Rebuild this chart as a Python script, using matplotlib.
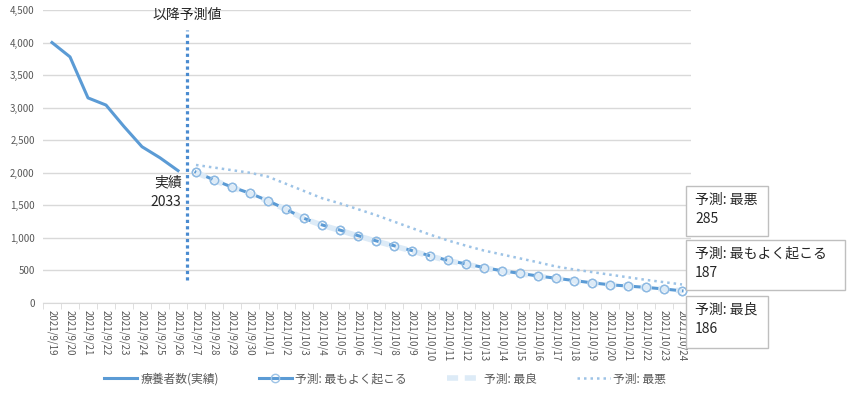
import matplotlib
matplotlib.use("Agg")
import matplotlib.pyplot as plt
import pandas as pd
from matplotlib.patches import Rectangle

plt.rcParams['font.family'] = ['Noto Sans CJK JP', 'DejaVu Sans']

# date labels for every day shown on the x axis
dates = [f"{d.year}/{d.month}/{d.day}" for d in pd.date_range("2021-09-19", "2021-10-24")]

# actual number of patients (9/19 - 9/26)
actual = [4000, 3780, 3150, 3040, 2710, 2400, 2230, 2033]

# forecasts (9/27 - 10/24)
likely = [2010, 1890, 1780, 1685, 1570, 1440, 1300, 1200, 1120, 1035, 955, 880, 805, 725,
          655, 600, 545, 495, 455, 415, 380, 345, 310, 280, 260, 240, 215, 187]
best = [2005, 1885, 1775, 1680, 1565, 1435, 1295, 1195, 1115, 1030, 950, 875, 800, 720,
        650, 595, 540, 490, 450, 410, 375, 340, 305, 278, 258, 238, 213, 186]
worst = [2120, 2080, 2040, 2000, 1940, 1830, 1720, 1610, 1530, 1440, 1350, 1250, 1150, 1050,
         960, 880, 805, 745, 685, 625, 560, 515, 475, 435, 395, 355, 320, 285]

labels = ["療養者数(実績)", "予測: 最もよく起こる", "予測: 最良", "予測: 最悪"]
box_titles = ["予測: 最悪", "予測: 最もよく起こる", "予測: 最良"]
box_values = [worst[-1], likely[-1], best[-1]]

W, H = 850, 393
fig = plt.figure(figsize=(W / 100, H / 100), dpi=100)
ax = fig.add_axes([43 / W, (H - 303) / H, 648 / W, 293 / H])

x_act = list(range(len(actual)))
x_fc = list(range(len(actual), len(actual) + len(likely)))

ax.plot(x_act, actual, color="#5B9BD5", lw=2.2, label=labels[0], zorder=3)
ax.plot(x_fc, likely, color="#5B9BD5", lw=2.2, marker="o", ms=6,
        mfc="none", mec="#9DC3E6", mew=1.0, label=labels[1], zorder=3)
ax.plot(x_fc, best, color="#DDEBF7", lw=4, ls=(0, (2, 1.2)), label=labels[2], zorder=4)
ax.plot(x_fc, likely, ls="none", marker="o", ms=6, mfc="none",
        mec="#8DB9E2", mew=1.0, zorder=5)
ax.plot(x_fc, worst, color="#9DC3E6", lw=1.8, ls=(0, (1, 1.6)), label=labels[3], zorder=3)

# boundary between actual and forecast
ax.plot([7.5, 7.5], [350, 4200], color="#4A8BD0", lw=2.3, ls=(0, (1, 1)), zorder=6, clip_on=False)
ax.text(7.5, 4430, "以降予測値", ha="center", va="center", fontsize=10, color="#262626")
ax.text(7.2, 1700, "実績\n2033", ha="right", va="center", fontsize=10,
        color="#262626", linespacing=1.45, zorder=7)

ax.set_xlim(-0.5, len(dates) - 0.5)
ax.set_ylim(0, 4500)
ax.set_yticks(range(0, 4501, 500))
ax.set_yticklabels([f"{v:,}" for v in range(0, 4501, 500)])
ax.set_xticks(range(len(dates)))
ax.set_xticklabels(dates, rotation=-90, fontsize=7, color="#595959")
ax.set_xticks([i - 0.5 for i in range(len(dates) + 1)], minor=True)
ax.tick_params(axis="x", which="major", length=0, pad=5)
ax.tick_params(axis="x", which="minor", length=4, color="#D9D9D9")
ax.tick_params(axis="y", length=0, labelsize=7, labelcolor="#595959", pad=6)
ax.grid(axis="y", color="#D9D9D9", lw=1)
ax.set_axisbelow(True)
for s in ["top", "right", "left"]:
    ax.spines[s].set_visible(False)
ax.spines["bottom"].set_color("#D9D9D9")

# value boxes to the right of the plot
boxes = [(686, 186, 82, 50), (686, 240, 159, 50), (686, 296, 82, 52)]
for (bx, by, bw, bh), t, v in zip(boxes, box_titles, box_values):
    fig.add_artist(Rectangle((bx / W, 1 - (by + bh) / H), bw / W, bh / H,
                             transform=fig.transFigure, fc="white", ec="#BFBFBF", lw=1))
    fig.text((bx + 9) / W, 1 - (by + 14) / H, t, ha="left", va="center", fontsize=10, color="#262626")
    fig.text((bx + 9) / W, 1 - (by + 33) / H, str(v), ha="left", va="center", fontsize=10, color="#262626")

handles, labs = ax.get_legend_handles_labels()
leg = fig.legend(handles, labs, loc="center", bbox_to_anchor=(385 / W, 14 / H), ncol=4,
                 frameon=False, fontsize=8.5, handlelength=2.8, columnspacing=3.4,
                 handletextpad=0.3)
for t in leg.get_texts():
    t.set_color("#595959")

fig.savefig("out.png", dpi=100)
